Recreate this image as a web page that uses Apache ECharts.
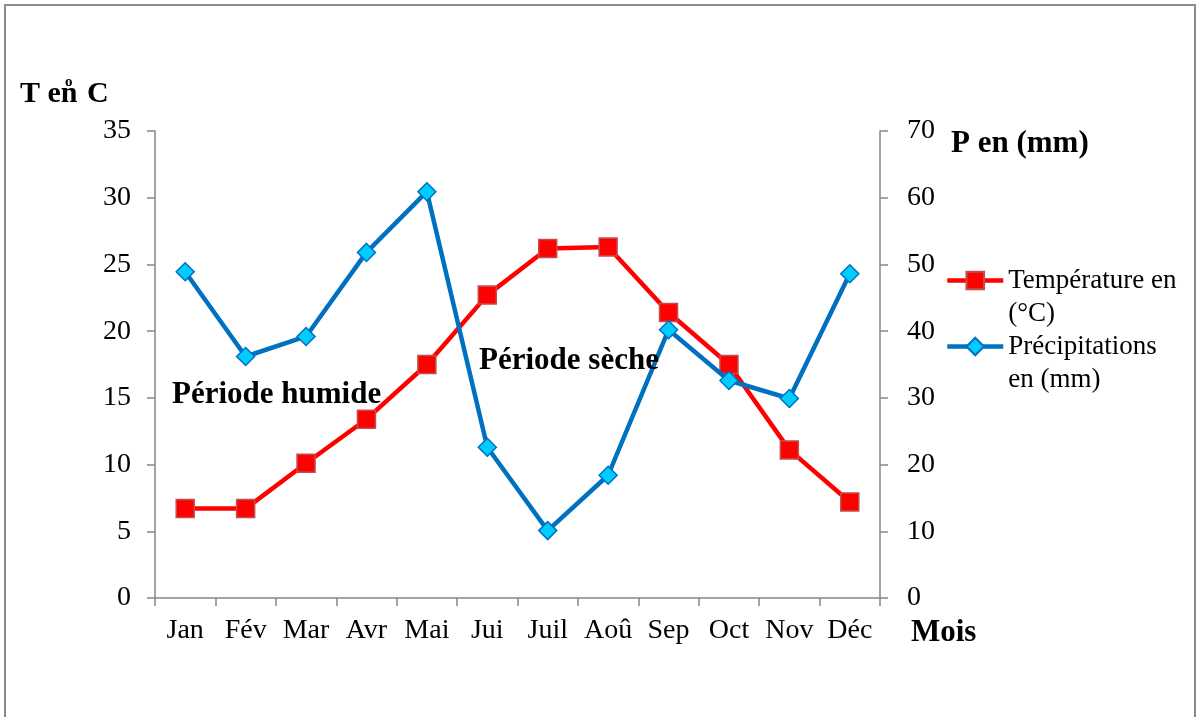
<!DOCTYPE html>
<html>
<head>
<meta charset="utf-8">
<script src="https://cdn.jsdelivr.net/npm/echarts@6/dist/echarts.min.js"></script>
<style>
  html, body { margin: 0; padding: 0; background: #fff; }
  #chart { width: 1200px; height: 717px; }
</style>
</head>
<body>
<div id="chart"></div>
<script>
// Monthly climate data: temperature (°C, left axis) and rainfall (mm, right axis)
const months = ['Jan', 'Fév', 'Mar', 'Avr', 'Mai', 'Jui', 'Juil', 'Aoû', 'Sep', 'Oct', 'Nov', 'Déc'];
const temperature = [6.7, 6.7, 10.1, 13.4, 17.5, 22.7, 26.2, 26.3, 21.4, 17.5, 11.1, 7.2];
const precipitation = [48.9, 36.2, 39.2, 51.8, 60.9, 22.6, 10.1, 18.4, 40.2, 32.6, 29.9, 48.6];
const tempTicks = { min: 0, max: 35, step: 5 };
const rainTicks = { min: 0, max: 70, step: 10 };

const FONT = '"Liberation Serif", "DejaVu Serif", serif';
const axisGrey = '#868686';
const LEGEND_LINE = 33;

const chart = echarts.init(document.getElementById('chart'), null, { renderer: 'canvas' });

chart.setOption({
  backgroundColor: '#ffffff',
  animation: false,
  textStyle: { fontFamily: FONT, color: '#000' },
  grid: { left: 155, right: 320, top: 131, bottom: 119, containLabel: false },
  legend: {
    orient: 'vertical',
    left: 945,
    top: 231,
    padding: 0,
    itemWidth: 56,
    itemHeight: 22,
    // each label carries an empty leading line so the marker sits level with
    // the first text line; the negative gap cancels that extra line
    itemGap: -LEGEND_LINE,
    lineStyle: { width: 4.5 },
    textStyle: { fontFamily: FONT, fontSize: 27, color: '#000', lineHeight: LEGEND_LINE },
    formatter: function (name) {
      return name === 'Température en (°C)' ? '\nTempérature en\n(°C)' : '\nPrécipitations\nen (mm)';
    },
    data: ['Température en (°C)', 'Précipitations en (mm)']
  },
  xAxis: {
    type: 'category',
    data: months,
    boundaryGap: true,
    axisLine: { lineStyle: { color: axisGrey, width: 1.5 } },
    axisTick: { show: true, interval: 0, length: 8, lineStyle: { color: axisGrey, width: 1.5 } },
    axisLabel: { interval: 0, margin: 19, fontFamily: FONT, fontSize: 28, color: '#000' },
    splitLine: { show: false }
  },
  yAxis: [
    {
      type: 'value',
      position: 'left',
      min: tempTicks.min, max: tempTicks.max, interval: tempTicks.step,
      axisLine: { show: true, lineStyle: { color: axisGrey, width: 1.5 } },
      axisTick: { show: true, length: 8, lineStyle: { color: axisGrey, width: 1.5 } },
      axisLabel: { margin: 24, fontFamily: FONT, fontSize: 28, color: '#000' },
      splitLine: { show: false }
    },
    {
      type: 'value',
      position: 'right',
      min: rainTicks.min, max: rainTicks.max, interval: rainTicks.step,
      axisLine: { show: true, lineStyle: { color: axisGrey, width: 1.5 } },
      axisTick: { show: true, length: 8, lineStyle: { color: axisGrey, width: 1.5 } },
      axisLabel: { margin: 27, fontFamily: FONT, fontSize: 28, color: '#000' },
      splitLine: { show: false }
    }
  ],
  series: [
    {
      name: 'Température en (°C)',
      type: 'line',
      yAxisIndex: 0,
      data: temperature,
      symbol: 'rect',
      symbolSize: 18,
      lineStyle: { color: '#ff0000', width: 4.5 },
      itemStyle: { color: '#ff0000', borderColor: '#c0504d', borderWidth: 1.5 },
      z: 3
    },
    {
      name: 'Précipitations en (mm)',
      type: 'line',
      yAxisIndex: 1,
      data: precipitation,
      symbol: 'diamond',
      symbolSize: 18,
      lineStyle: { color: '#0070c0', width: 4.5 },
      itemStyle: { color: '#00ccff', borderColor: '#0070c0', borderWidth: 1.5 },
      z: 4
    }
  ],
  graphic: [
    {
      type: 'rect',
      shape: { x: 5, y: 5, width: 1190, height: 730 },
      style: { fill: 'none', stroke: '#8a8a8a', lineWidth: 2 },
      silent: true, z: -1
    },
    // left axis title "T en °C", degree mark set above the n
    {
      type: 'text', left: 20, top: 79,
      style: { text: 'T en', fontFamily: FONT, fontSize: 30, fontWeight: 'bold', fill: '#000' }
    },
    {
      type: 'text', left: 65, top: 75,
      style: { text: 'o', fontFamily: FONT, fontSize: 15, fontWeight: 'bold', fill: '#000' }
    },
    {
      type: 'text', left: 87, top: 79,
      style: { text: 'C', fontFamily: FONT, fontSize: 30, fontWeight: 'bold', fill: '#000' }
    },
    {
      type: 'text', left: 951, top: 128,
      style: { text: 'P en (mm)', fontFamily: FONT, fontSize: 31, fontWeight: 'bold', fill: '#000' }
    },
    {
      type: 'text', left: 911, top: 617,
      style: { text: 'Mois', fontFamily: FONT, fontSize: 31, fontWeight: 'bold', fill: '#000' }
    },
    {
      type: 'text', left: 172, top: 379,
      style: { text: 'Période humide', fontFamily: FONT, fontSize: 31, fontWeight: 'bold', fill: '#000' }, z: 10
    },
    {
      type: 'text', left: 479, top: 345,
      style: { text: 'Période sèche', fontFamily: FONT, fontSize: 31, fontWeight: 'bold', fill: '#000' }, z: 10
    }
  ]
});
</script>
</body>
</html>
